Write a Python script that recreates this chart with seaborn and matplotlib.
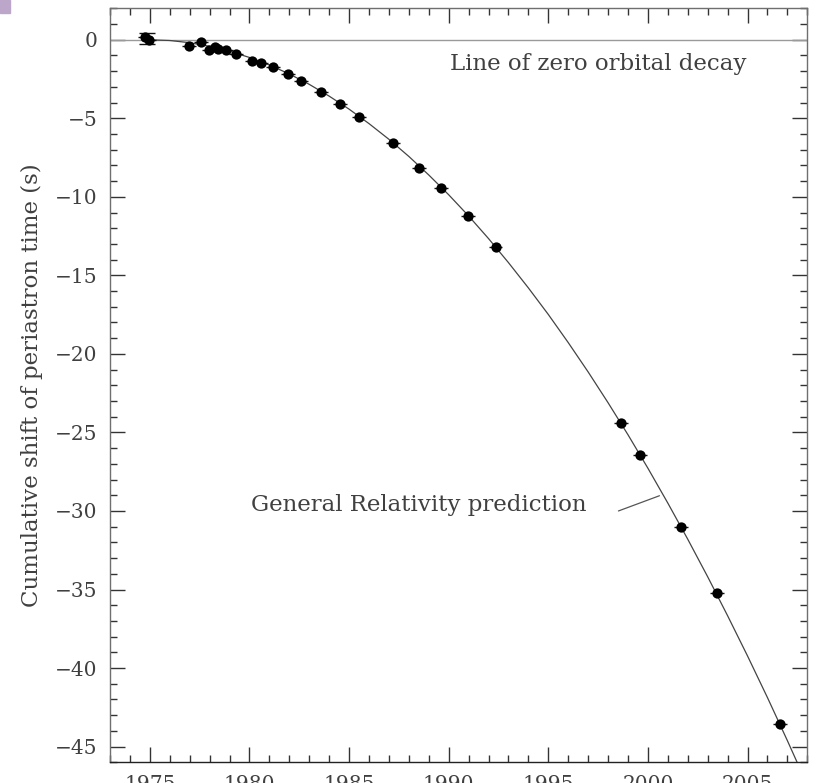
import matplotlib
matplotlib.use("Agg")
import matplotlib.pyplot as plt
from matplotlib.patches import Rectangle
from matplotlib.ticker import MultipleLocator
import numpy as np
import pandas as pd
import seaborn as sns

# Measured cumulative shift of periastron time (PSR B1913+16)
obs_year = [1974.78, 1974.96, 1976.96, 1977.58, 1977.95, 1978.25, 1978.43,
            1978.82, 1979.34, 1980.12, 1980.59, 1981.16, 1981.93, 1982.57,
            1983.57, 1984.53, 1985.50, 1987.21, 1988.52, 1989.63, 1990.96,
            1992.35, 1998.64, 1999.61, 2001.66, 2003.49, 2006.63]
obs_shift = [0.19, -0.02, -0.38, -0.13, -0.66, -0.45, -0.61,
             -0.66, -0.91, -1.36, -1.50, -1.76, -2.20, -2.61,
             -3.35, -4.07, -4.92, -6.60, -8.17, -9.46, -11.20,
             -13.22, -24.42, -26.44, -31.04, -35.24, -43.56]
obs_year_err = 0.35
first_shift_err = 0.35

# General Relativity prediction, yearly values
gr_year = [1974.9, 1976, 1977, 1978, 1979, 1980, 1981, 1982, 1983, 1984,
           1985, 1986, 1987, 1988, 1989, 1990, 1991, 1992, 1993, 1994,
           1995, 1996, 1997, 1998, 1999, 2000, 2001, 2002, 2003, 2004,
           2005, 2006, 2007, 2008]
gr_shift = [0.0, -0.05, -0.19, -0.42, -0.73, -1.13, -1.61, -2.18, -2.84, -3.59,
            -4.42, -5.34, -6.34, -7.43, -8.61, -9.87, -11.22, -12.66, -14.19, -15.80,
            -17.49, -19.28, -21.15, -23.11, -25.15, -27.28, -29.50, -31.80, -34.19, -36.67,
            -39.23, -41.88, -44.62, -47.44]

x_ticks = [1975, 1980, 1985, 1990, 1995, 2000, 2005]
y_ticks = [0, -5, -10, -15, -20, -25, -30, -35, -40, -45]

sns.set_theme(style="white")
plt.rcParams["font.family"] = ["DejaVu Serif"]
plt.rcParams["axes.unicode_minus"] = True

text_col = "#404040"
fs_ticks = 14.5
fs_text = 16.5

fig = plt.figure(figsize=(8.25, 7.83), dpi=100)
fig.patch.set_facecolor("white")
ax = fig.add_axes([110 / 825, 1 - 762.3 / 783, (807.3 - 110) / 825, (762.3 - 8.3) / 783])
ax.set_facecolor("white")

obs = pd.DataFrame({"year": obs_year, "shift": obs_shift})
gr = pd.DataFrame({"year": gr_year, "shift": gr_shift})

# zero-decay reference
ax.axhline(0, color="#9a9a9a", lw=1.0, zorder=1)

# prediction curve
sns.lineplot(data=gr, x="year", y="shift", ax=ax, color="#444444", lw=0.9,
             sort=False, zorder=2, legend=False)

# time spans of each measurement
ax.errorbar(obs["year"], obs["shift"], xerr=obs_year_err, fmt="none",
            ecolor="#111111", elinewidth=1.0, capsize=0, zorder=3)
# uncertainty on the earliest epoch
ax.errorbar([obs_year[0] + 0.1], [obs_shift[0] - 0.1], yerr=first_shift_err,
            fmt="none", ecolor="#111111", elinewidth=1.0, capsize=6,
            capthick=1.0, zorder=3)

sns.scatterplot(data=obs, x="year", y="shift", ax=ax, color="black", s=55,
                edgecolor="black", linewidth=0, zorder=4, legend=False)

ax.set_xlim(1973, 2008)
ax.set_ylim(-46, 2)
ax.set_xticks(x_ticks)
ax.set_yticks(y_ticks)
ax.xaxis.set_minor_locator(MultipleLocator(1))
ax.yaxis.set_minor_locator(MultipleLocator(1))
ax.set_yticklabels(["0" if v == 0 else f"\u2212{abs(v)}" for v in y_ticks])
ax.set_xticklabels([str(v) for v in x_ticks])

ax.tick_params(which="both", direction="in", top=True, right=True,
               bottom=True, left=True, color="#333333", width=1.0,
               labelsize=fs_ticks, labelcolor=text_col, pad=9)
ax.tick_params(which="major", length=10.8)
ax.tick_params(which="minor", length=5)

for sp in ax.spines.values():
    sp.set_color("#6f6f6f")
    sp.set_linewidth(1.0)
ax.spines["bottom"].set_color("#222222")

ax.set_xlabel("")
ax.set_ylabel("Cumulative shift of periastron time (s)", fontsize=fs_text, color=text_col)
ax.yaxis.set_label_coords((43 - 110) / 697.3, 0.5)

ax.text(1990.07, -1.55, "Line of zero orbital decay", fontsize=fs_text,
        color=text_col, ha="left", va="center")
ax.text(1980.06, -29.62, "General Relativity prediction", fontsize=fs_text,
        color=text_col, ha="left", va="center")
ax.plot([1998.52, 2000.58], [-30.0, -29.03], color="#555555", lw=0.9)

# small corner swatch
fig.patches.append(Rectangle((0, 1 - 13 / 783), 10 / 825, 13 / 783,
                             transform=fig.transFigure, color="#bca7cb",
                             zorder=0))

fig.savefig("out.png", dpi=100)
